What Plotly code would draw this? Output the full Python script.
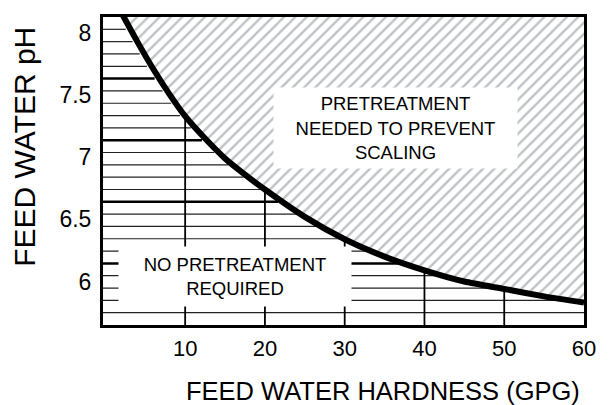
import numpy as np
import plotly.graph_objects as go

# ---- data ----
CURVE_X = [2.2, 4.0, 6.0, 8.0, 10.0, 12.5, 15.0, 17.5, 20.0, 25.0, 30.0, 35.0, 40.0, 45.0, 50.0, 55.0, 60.0]
CURVE_Y = [8.14, 7.93, 7.71, 7.51, 7.33, 7.15, 6.99, 6.86, 6.74, 6.52, 6.34, 6.20, 6.09, 6.00, 5.94, 5.88, 5.83]

X_TICKS = [10, 20, 30, 40, 50, 60]
X_TICK_LABELS = ["10", "20", "30", "40", "50", "60"]
Y_TICKS = [6.0, 6.5, 7.0, 7.5, 8.0]
Y_TICK_LABELS = ["6", "6.5", "7", "7.5", "8"]
V_GRID_X = [10, 20, 30, 40, 50]

X_RANGE = [-0.3, 60.0]
Y_RANGE = [5.65, 8.128]
GRID_DIVISIONS = 25

TITLE_X = "FEED WATER HARDNESS (GPG)"
TITLE_Y = "FEED WATER pH"
LABEL_TOP = "PRETREATMENT<br>NEEDED TO PREVENT<br>SCALING"
LABEL_BOTTOM = "NO PRETREATMENT<br>REQUIRED"

FONT = "Liberation Sans, Arial, Helvetica, sans-serif"

cx = np.array(CURVE_X)
cy = np.array(CURVE_Y)

# horizontal ruling below the curve
grid_y = np.linspace(Y_RANGE[0], Y_RANGE[1], GRID_DIVISIONS + 1)[1:-1]
thin_x, thin_y, thick_x, thick_y = [], [], [], []
for k, yv in enumerate(grid_y, start=1):
    if yv <= cy.min():
        xe = X_RANGE[1]
    else:
        xe = float(np.interp(yv, cy[::-1], cx[::-1])) - 0.6
    tx, ty = (thick_x, thick_y) if k % 5 == 0 else (thin_x, thin_y)
    tx += [X_RANGE[0], xe, None]
    ty += [yv, yv, None]

# vertical ruling below the curve
vx, vy = [], []
for xv in V_GRID_X:
    vx += [xv, xv, None]
    vy += [Y_RANGE[0], float(np.interp(xv, cx, cy)), None]

fig = go.Figure()

# hatched region above the curve
top = Y_RANGE[1] + 0.2
fig.add_trace(go.Scatter(
    x=CURVE_X + [X_RANGE[1] + 1, X_RANGE[1] + 1, CURVE_X[0]],
    y=CURVE_Y + [CURVE_Y[-1], top, top],
    fill="toself", mode="lines", line=dict(width=0),
    fillcolor="white",
    fillpattern=dict(shape="/", size=8, solidity=0.3, fgcolor="#7e848b", bgcolor="white"),
    hoverinfo="skip"))

fig.add_trace(go.Scatter(x=thin_x, y=thin_y, mode="lines",
                         line=dict(color="#222222", width=1.2), hoverinfo="skip"))
fig.add_trace(go.Scatter(x=thick_x, y=thick_y, mode="lines",
                         line=dict(color="black", width=2.5), hoverinfo="skip"))
fig.add_trace(go.Scatter(x=vx, y=vy, mode="lines",
                         line=dict(color="black", width=1.8), hoverinfo="skip"))

# boundary curve
fig.add_trace(go.Scatter(x=CURVE_X, y=CURVE_Y, mode="lines",
                         line=dict(color="black", width=6, shape="spline", smoothing=0.6),
                         hoverinfo="skip"))

fig.add_annotation(x=36.4, y=7.232, xref="x", yref="y", text=LABEL_TOP, showarrow=False,
                   font=dict(family=FONT, size=18.5, color="black"),
                   bgcolor="white", width=241, height=78)
fig.add_annotation(x=16.2, y=6.044, xref="x", yref="y", text=LABEL_BOTTOM, showarrow=False,
                   font=dict(family=FONT, size=18.5, color="black"),
                   bgcolor="white", width=230, height=57)

fig.add_annotation(x=0.583, y=-0.215, xref="paper", yref="paper", text=TITLE_X,
                   xanchor="center", yanchor="middle",
                   showarrow=False, font=dict(family=FONT, size=25.5, color="black"))
fig.add_annotation(x=-0.162, y=0.579, xref="paper", yref="paper", text=TITLE_Y,
                   xanchor="center", yanchor="middle", borderpad=0,
                   textangle=-90, showarrow=False, font=dict(family=FONT, size=30, color="black"))

# the page body adds an 8px offset, so the figure is sized to fit what remains
fig.update_layout(
    width=605, height=397,
    margin=dict(l=95, r=29, t=6, b=80),
    plot_bgcolor="white", paper_bgcolor="white",
    showlegend=False,
    font=dict(family=FONT, color="black"),
    xaxis=dict(range=X_RANGE, showgrid=False, zeroline=False, showline=True, mirror=True,
               linecolor="black", linewidth=3, ticks="", tickvals=X_TICKS,
               ticktext=X_TICK_LABELS, tickfont=dict(size=22, family=FONT, color="black"),
               ticklabelstandoff=2),
    yaxis=dict(range=Y_RANGE, showgrid=False, zeroline=False, showline=True, mirror=True,
               linecolor="black", linewidth=3, ticks="", tickvals=Y_TICKS,
               ticktext=Y_TICK_LABELS, tickfont=dict(size=23, family=FONT, color="black"),
               ticklabelstandoff=4),
)

fig.write_html("out.html")
